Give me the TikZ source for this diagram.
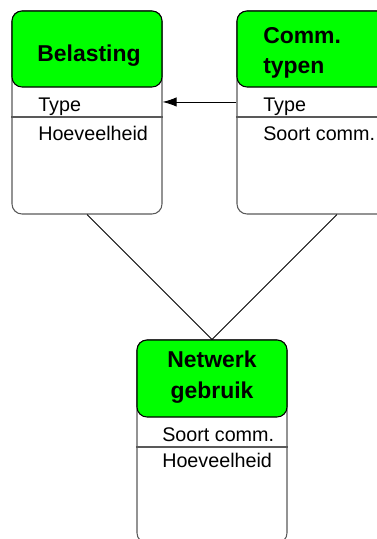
\documentclass[tikz,border=0pt]{standalone}
\usepackage{fontspec}
\setmainfont{Liberation Sans}
\usetikzlibrary{arrows.meta}

\begin{document}
\begin{tikzpicture}[x=0.75pt,y=0.75pt,yscale=-1,xscale=1,
	box/.style={draw=black!65, line width=0.8pt, rounded corners=7.5pt, inner sep=0pt, minimum width=112.5pt},
	head/.style={draw=black, line width=0.8pt, fill=green, rounded corners=7.5pt, inner sep=0pt, minimum width=112.5pt, minimum height=57pt},
	title/.style={font=\fontsize{17.2}{23}\selectfont\bfseries, inner sep=0pt},
	field/.style={font=\fontsize{14.8}{18}\selectfont, anchor=base west, inner sep=0pt},
	divider/.style={draw=black!65, line width=0.8pt},
	link/.style={draw=black, line width=0.7pt}]

	\useasboundingbox (0,0) rectangle (377,539);
	\clip (0,0) rectangle (377,539);

	\node [box, minimum height=152.25pt] (bel) at (87,112.5) {};
	\node [head] (belhead) at (87,49) {};
	\node [title, anchor=base] (beltitle) at (89,61) {Belasting};
	\node [field] (beltype) at (38,111) {Type};
	\node [field] (belhoev) at (38,140) {Hoeveelheid};
	\draw [divider] (bel.west |- 0,117) -- (bel.east |- 0,117);

	\node [box, minimum width=150pt, minimum height=152.25pt] (comm) at (337,112.5) {};
	\node [head, minimum width=150pt] (commhead) at (337,49) {};
	\node [title, anchor=north west, align=left] (commtitle) at (263,27) {Comm.\\typen};
	\node [field] (commtype) at (263,111) {Type};
	\node [field] (commsoort) at (263,140) {Soort comm.};
	\draw [divider] (comm.west |- 0,117) -- (comm.east |- 0,117);

	\node [box, minimum height=152.25pt] (net) at (212,441.5) {};
	\node [head, minimum height=57.75pt] (nethead) at (212,378.5) {};
	\node [title, anchor=north, align=center] (nettitle) at (212,351) {Netwerk\\gebruik};
	\node [field] (netsoort) at (162,441) {Soort comm.};
	\node [field] (nethoev) at (162,467) {Hoeveelheid};
	\draw [divider] (net.west |- 0,447) -- (net.east |- 0,447);

	\draw [link, -{Latex[length=10.5pt,width=7pt]}] ([yshift=-7.9pt]comm.west) -- ([yshift=-7.9pt]bel.east);
	\draw [link] (bel.south) -- (net.north);
	\draw [link] (comm.south) -- (net.north);

\end{tikzpicture}
\end{document}
